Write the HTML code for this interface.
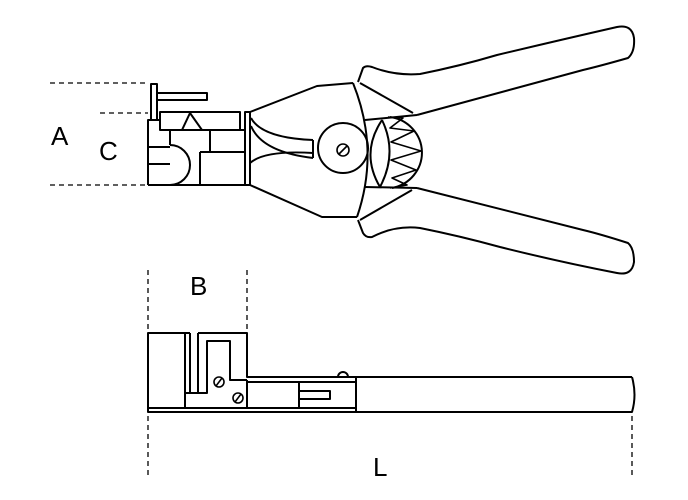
<!DOCTYPE html>
<html><head><style>
html,body{margin:0;padding:0;background:#fff;}
svg{display:block;}
text{font-family:"Liberation Sans",sans-serif;font-size:26px;fill:#000;}
</style></head><body>
<svg width="688" height="500" viewBox="0 0 688 500" xmlns="http://www.w3.org/2000/svg">
<g fill="none" stroke="#000" stroke-width="2" stroke-linejoin="round">
<g stroke-width="1.3" stroke-dasharray="5,4">
<line x1="50" y1="83" x2="148" y2="83"/>
<line x1="100" y1="113" x2="148" y2="113"/>
<line x1="50" y1="185" x2="148" y2="185"/>
<line x1="148" y1="270" x2="148" y2="333"/>
<line x1="247" y1="270" x2="247" y2="333"/>
<line x1="148" y1="416" x2="148" y2="475"/>
<line x1="632" y1="416" x2="632" y2="475"/>
</g>
<rect x="151" y="84" width="6" height="36"/>
<rect x="157" y="93" width="50" height="7"/>
<polyline points="148,185 148,120 160,120"/>
<rect x="160" y="112" width="80" height="18"/>
<polyline points="182,130 190,113 202,130"/>
<line x1="148" y1="185" x2="245" y2="185"/>
<line x1="148" y1="147" x2="170" y2="147"/>
<line x1="148" y1="164" x2="170" y2="164"/>
<line x1="170" y1="130" x2="170" y2="145"/>
<path d="M170,145 A20,20 0 0 1 170,185"/>
<line x1="210" y1="130" x2="210" y2="152"/>
<line x1="200" y1="152" x2="245" y2="152"/>
<line x1="200" y1="152" x2="200" y2="185"/>
<line x1="240" y1="130" x2="245" y2="130"/>
<rect x="245" y="112" width="5" height="73"/>
<polyline points="250,112 317,86 353,83"/>
<polyline points="250,185 322,217 357,217"/>
<path d="M251,118 Q262,138 313,140"/>
<path d="M251,126 Q262,152 313,158"/>
<line x1="313" y1="140" x2="313" y2="158"/>
<path d="M250,163 Q265,150 313,153"/>
<circle cx="343" cy="148" r="25"/>
<circle cx="343" cy="150" r="6" stroke-width="1.6"/>
<line x1="339" y1="154" x2="347" y2="146" stroke-width="1.6"/>
<path d="M353,83 Q380,150 357,217"/>
<path d="M382,120 Q360,153 380,187"/>
<path d="M382,120 Q398,153 380,187"/>
<path d="M390,117 A37,36 0 0 1 392,188"/>
<polyline points="388,117 403,118 390,128 414,131 391,142 421,151 391,160 416,170 392,178 407,185 390,188" stroke-width="1.6"/>
<path d="M358,82 L363,68 Q366,65 372,67 Q395,76 420,74 Q460,66 497,55 Q560,40 617,27 Q632,24 634,38 Q635,52 628,58 Q600,66 583,70 L417,115"/>
<line x1="360" y1="83" x2="413" y2="113"/>
<line x1="365" y1="120" x2="417" y2="115"/>
<path d="M358,220 L363,233 Q366,238 372,237 Q395,225 420,228 Q460,236 500,247 Q560,262 617,273 Q632,276 634,262 Q634,248 628,243 Q600,234 583,230 L417,188"/>
<line x1="360" y1="220" x2="412" y2="190"/>
<line x1="365" y1="187" x2="417" y2="188"/>
<!-- bottom view -->
<rect x="148" y="333" width="37" height="75"/>
<rect x="148" y="408" width="208" height="4"/>
<line x1="185" y1="333" x2="190" y2="333"/>
<polyline points="198,333 247,333 247,377 632,377"/>
<polyline points="190,333 190,393 198,393 198,333"/>
<polyline points="185,393 207,393 207,341 230,341 230,380 247,380"/>
<line x1="247" y1="380" x2="247" y2="408"/>
<line x1="247" y1="382" x2="356" y2="382"/>
<line x1="299" y1="382" x2="299" y2="408"/>
<polyline points="299,391 330,391 330,399 299,399"/>
<line x1="356" y1="377" x2="356" y2="412"/>
<path d="M356,412 L632,412 Q637,395 632,377"/>
<path d="M338,377 A5,5 0 0 1 348,377"/>
<circle cx="219" cy="382" r="5" stroke-width="1.6"/>
<line x1="216" y1="386" x2="222" y2="378" stroke-width="1.6"/>
<circle cx="238" cy="398" r="5" stroke-width="1.6"/>
<line x1="235" y1="402" x2="241" y2="394" stroke-width="1.6"/>
</g>
<text x="51" y="145">A</text>
<text x="99" y="160">C</text>
<text x="190" y="295">B</text>
<text x="373" y="476">L</text>
</svg>
</body></html>
